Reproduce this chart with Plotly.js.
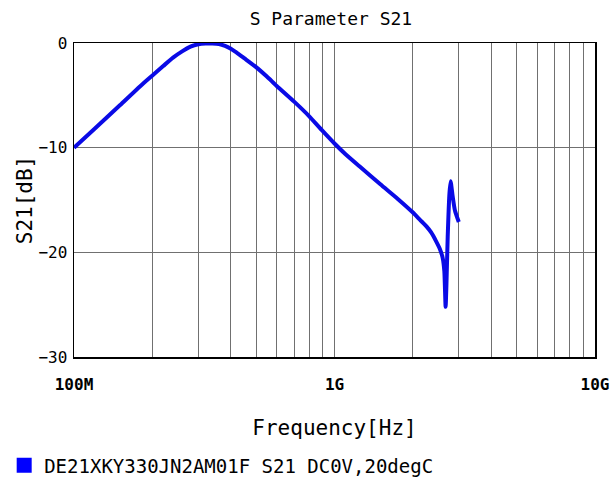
<!DOCTYPE html>
<html>
<head>
<meta charset="utf-8">
<script src="https://cdn.plot.ly/plotly-3.0.1.min.js"></script>
<style>html,body{margin:0;padding:0;background:#fff;}#chart{width:614px;height:494px;}</style>
</head>
<body>
<div id="chart"></div>
<script>
// Frequency in Hz
const freqHz = [1.00e8, 1.20e8, 1.50e8, 1.80e8, 2.00e8, 2.20e8, 2.40e8, 2.60e8, 2.80e8, 3.00e8, 3.20e8, 3.40e8, 3.60e8, 3.80e8, 4.00e8, 4.20e8, 4.50e8, 5.00e8, 5.50e8, 6.00e8, 7.00e8, 8.00e8, 9.00e8, 1.00e9, 1.10e9, 1.25e9, 1.50e9, 1.75e9, 2.00e9, 2.13e9, 2.25e9, 2.35e9, 2.45e9, 2.54e9, 2.60e9, 2.64e9, 2.67e9, 2.69e9, 2.72e9, 2.76e9, 2.79e9, 2.84e9, 2.90e9, 3.00e9];
// S21 in dB
const s21dB = [-10.0, -8.2, -5.95, -4.1, -3.1, -2.2, -1.4, -0.8, -0.35, -0.12, -0.05, -0.05, -0.1, -0.28, -0.55, -0.9, -1.45, -2.3, -3.2, -4.1, -5.6, -7.0, -8.4, -9.6, -10.6, -11.8, -13.5, -14.9, -16.2, -16.9, -17.5, -18.1, -18.9, -19.7, -20.5, -21.8, -25.2, -23.0, -18.5, -14.5, -13.2, -14.6, -16.0, -17.1];
const xTickVals = [1e8,2e8,3e8,4e8,5e8,6e8,7e8,8e8,9e8,1e9,2e9,3e9,4e9,5e9,6e9,7e9,8e9,9e9,1e10];
const xTickText = ['100M','','','','','','','','','1G','','','','','','','','','10G'];
const yTickVals = [0, -10, -20, -30];
const seriesName = 'DE21XKY330JN2AM01F S21 DC0V,20degC';
const titleText = 'S Parameter S21';
const xTitle = 'Frequency[Hz]';
const yTitle = 'S21[dB]';

const FONT = '"DejaVu Sans Mono", "Liberation Mono", monospace';

const traces = [
  {
    x: freqHz, y: s21dB, type: 'scatter', mode: 'lines',
    line: {color: '#0a0ae6', width: 4, shape: 'spline', smoothing: 0.6}, showlegend: false, hoverinfo: 'skip'
  },
  {
    x: [null], y: [null], type: 'scatter', mode: 'markers', name: seriesName,
    marker: {symbol: 'square', color: '#0000ff', size: 15}, showlegend: true
  }
];

const layout = {
  width: 614, height: 494,
  margin: {l: 74, r: 19, t: 43, b: 137, autoexpand: false},
  paper_bgcolor: '#ffffff', plot_bgcolor: '#ffffff',
  font: {family: FONT, color: '#000000'},
  title: {text: titleText, font: {family: FONT, size: 18, color: '#000'}, x: 0.539, xanchor: 'center', y: 0.963, yanchor: 'middle'},
  xaxis: {
    type: 'log', range: [8, 10],
    tickmode: 'array', tickvals: xTickVals, ticktext: xTickText,
    showgrid: true, gridcolor: '#707070', gridwidth: 1,
    showline: true, linecolor: '#000', linewidth: 1.5, mirror: true,
    ticks: '', ticklabelstandoff: 12,
    tickfont: {family: FONT, size: 16, weight: 'bold', color: '#000'},
    title: {text: xTitle, font: {family: FONT, size: 21, color: '#000'}, standoff: 27},
    zeroline: false, fixedrange: true, automargin: false
  },
  yaxis: {
    range: [-30, 0], tickmode: 'array', tickvals: yTickVals,
    showgrid: true, gridcolor: '#707070', gridwidth: 1,
    showline: true, linecolor: '#000', linewidth: 1.5, mirror: true,
    ticks: '', ticklabelstandoff: 2,
    tickfont: {family: FONT, size: 16, color: '#000'},
    title: {text: yTitle, font: {family: FONT, size: 21, color: '#000'}, standoff: 0},
    zeroline: false, fixedrange: true, automargin: false
  },
  legend: {
    x: -0.134, y: -0.285, xanchor: 'left', yanchor: 'top',
    font: {family: FONT, size: 19, color: '#000'},
    bgcolor: 'rgba(0,0,0,0)', itemwidth: 30, tracegroupgap: 0
  },
  showlegend: true
};

Plotly.newPlot('chart', traces, layout, {displayModeBar: false, staticPlot: true});
</script>
</body>
</html>
